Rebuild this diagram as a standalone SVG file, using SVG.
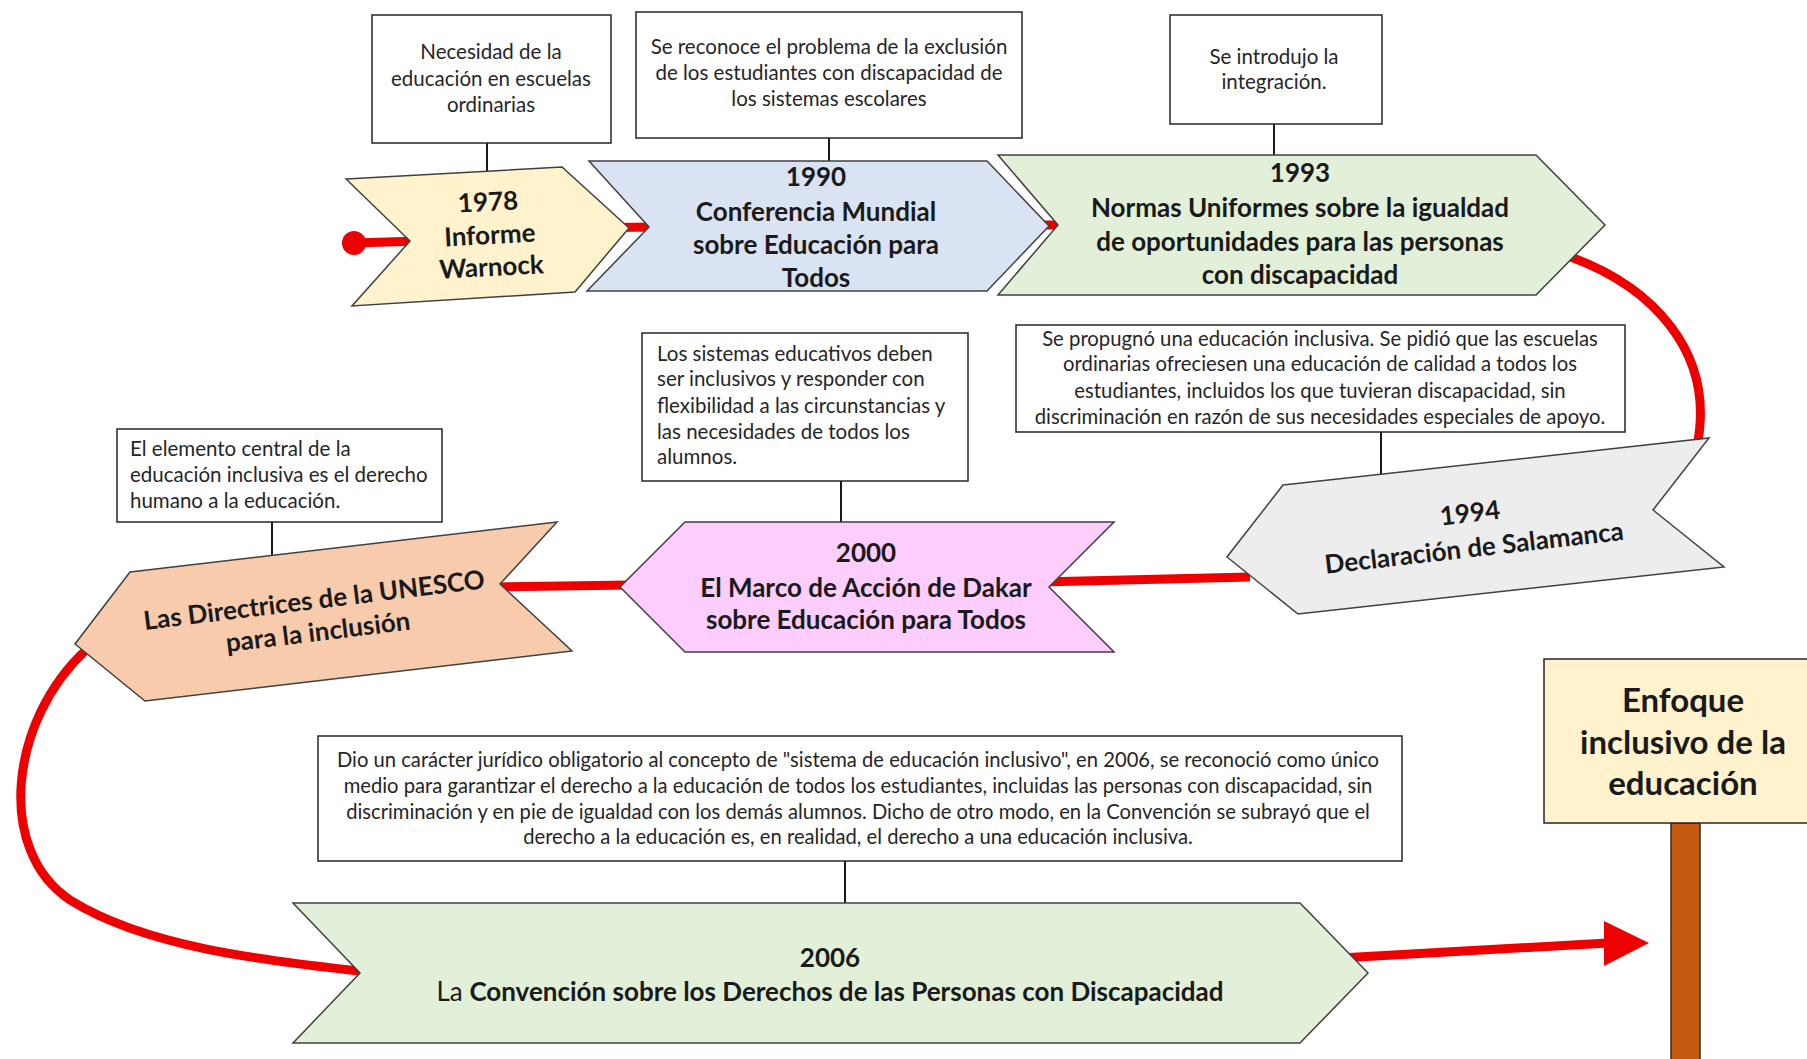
<svg xmlns="http://www.w3.org/2000/svg" width="1807" height="1059" viewBox="0 0 1807 1059">
<style>
.box{fill:#ffffff;stroke:#262626;stroke-width:1.5}
.chev{stroke:#404040;stroke-width:1.5}
.stem{stroke:#1a1a1a;stroke-width:2;fill:none}
.red{stroke:#ee0000;stroke-width:9;fill:none;stroke-linecap:butt}
.t{font-family:Lato,"Liberation Sans",sans-serif;font-size:20.5px;fill:#262626}
.c{text-anchor:middle}
.b{font-family:Lato,"Liberation Sans",sans-serif;font-weight:bold;font-size:26px;fill:#1a1a1a;text-anchor:middle}
</style>
<rect width="1807" height="1059" fill="#ffffff"/>
<g id="connectors">
<circle cx="354" cy="243" r="12" fill="#ee0000"/>
<line class="red" x1="354" y1="243" x2="420" y2="241"/>
<line class="red" x1="560" y1="228" x2="660" y2="227"/>
<line class="red" x1="1035" y1="225" x2="1070" y2="225"/>
<path class="red" d="M1568,256 C1652,286 1716,352 1697,446"/>
<line class="red" x1="1250" y1="577" x2="1040" y2="582"/>
<line class="red" x1="630" y1="585" x2="490" y2="587"/>
<path class="red" d="M86,650 C10,720 -5,850 70,900 C150,950 280,962 368,972"/>
<line class="red" x1="1340" y1="958" x2="1608" y2="943" stroke-width="10"/>
<polygon points="1604,921 1649,943 1604,966" fill="#ee0000"/>
<line class="stem" x1="487" y1="143" x2="487" y2="172"/>
<line class="stem" x1="829" y1="138" x2="829" y2="161"/>
<line class="stem" x1="1274" y1="124" x2="1274" y2="155"/>
<line class="stem" x1="1381" y1="432" x2="1381" y2="474"/>
<line class="stem" x1="841" y1="481" x2="841" y2="522"/>
<line class="stem" x1="272" y1="522" x2="272" y2="555"/>
<line class="stem" x1="845" y1="861" x2="845" y2="903"/>
</g>
<g id="n1978">
<polygon class="chev" fill="#fff2cc" points="346,179 562,167 629,228 575,292 352,306 410,241"/>
<g transform="rotate(-3 490 240)">
<text class="b" x="490" y="211">1978</text>
<text class="b" x="490" y="244">Informe</text>
<text class="b" x="490" y="276">Warnock</text>
</g>
</g>
<g id="n1990">
<polygon class="chev" fill="#dae3f3" points="589,161 987,161 1049,226 987,291 587,291 649,227"/>
<text class="b" x="816" y="186">1990</text>
<text class="b" x="816" y="221">Conferencia Mundial</text>
<text class="b" x="816" y="254">sobre Educación para</text>
<text class="b" x="816" y="287">Todos</text>
</g>
<g id="n1993">
<polygon class="chev" fill="#e2f0d9" points="998,155 1536,155 1605,225 1536,295 998,295 1058,225"/>
<text class="b" x="1300" y="182">1993</text>
<text class="b" x="1300" y="217">Normas Uniformes sobre la igualdad</text>
<text class="b" x="1300" y="251">de oportunidades para las personas</text>
<text class="b" x="1300" y="284">con discapacidad</text>
</g>
<g id="n1994">
<polygon class="chev" fill="#ededed" points="1283,485 1709,438 1653,510 1724,567 1298,614 1227,557"/>
<g transform="rotate(-6.5 1472 530)">
<text class="b" x="1472" y="522">1994</text>
<text class="b" x="1472" y="557">Declaración de Salamanca</text>
</g>
</g>
<g id="n2000">
<polygon class="chev" fill="#fdcdfd" points="685,522 1114,522 1049,587 1114,652 685,652 620,587"/>
<text class="b" x="866" y="562">2000</text>
<text class="b" x="866" y="597">El Marco de Acción de Dakar</text>
<text class="b" x="866" y="629">sobre Educación para Todos</text>
</g>
<g id="nUnesco">
<polygon class="chev" fill="#f8cbad" points="130,572 557,522 500,584 572,651 145,701 75,644"/>
<g transform="rotate(-7 316 616)">
<text class="b" x="316" y="609">Las Directrices de la UNESCO</text>
<text class="b" x="316" y="641">para la inclusión</text>
</g>
</g>
<g id="n2006">
<polygon class="chev" fill="#e2f0d9" points="293,903 1300,903 1368,973 1300,1043 293,1043 360,973"/>
<text class="b" x="830" y="967">2006</text>
<text class="b" x="830" y="1001"><tspan font-weight="normal">La </tspan>Convención sobre los Derechos de las Personas con Discapacidad</text>
</g>
<g id="box1978">
<rect class="box" x="372" y="15" width="239" height="128"/>
<text class="t c" x="491" y="59">Necesidad de la</text>
<text class="t c" x="491" y="86">educación en escuelas</text>
<text class="t c" x="491" y="112">ordinarias</text>
</g>
<g id="box1990">
<rect class="box" x="636" y="12" width="386" height="126"/>
<text class="t c" x="829" y="54">Se reconoce el problema de la exclusión</text>
<text class="t c" x="829" y="80">de los estudiantes con discapacidad de</text>
<text class="t c" x="829" y="106">los sistemas escolares</text>
</g>
<g id="box1993">
<rect class="box" x="1170" y="15" width="212" height="109"/>
<text class="t c" x="1274" y="64">Se introdujo la</text>
<text class="t c" x="1274" y="89">integración.</text>
</g>
<g id="box1994">
<rect class="box" x="1016" y="325" width="609" height="107"/>
<text class="t c" x="1320" y="346" style="font-size:20.3px">Se propugnó una educación inclusiva. Se pidió que las escuelas</text>
<text class="t c" x="1320" y="371" style="font-size:20.3px">ordinarias ofreciesen una educación de calidad a todos los</text>
<text class="t c" x="1320" y="398" style="font-size:20.3px">estudiantes, incluidos los que tuvieran discapacidad, sin</text>
<text class="t c" x="1320" y="424" style="font-size:20.3px">discriminación en razón de sus necesidades especiales de apoyo.</text>
</g>
<g id="box2000">
<rect class="box" x="642" y="333" width="326" height="148"/>
<text class="t" x="657" y="361">Los sistemas educativos deben</text>
<text class="t" x="657" y="386">ser inclusivos y responder con</text>
<text class="t" x="657" y="413">flexibilidad a las circunstancias y</text>
<text class="t" x="657" y="439">las necesidades de todos los</text>
<text class="t" x="657" y="464">alumnos.</text>
</g>
<g id="boxUnesco">
<rect class="box" x="117" y="429" width="325" height="93"/>
<text class="t" x="130" y="456">El elemento central de la</text>
<text class="t" x="130" y="482">educación inclusiva es el derecho</text>
<text class="t" x="130" y="508">humano a la educación.</text>
</g>
<g id="box2006">
<rect class="box" x="318" y="736" width="1084" height="125"/>
<text class="t c" x="858" y="767" style="font-size:20.2px">Dio un carácter jurídico obligatorio al concepto de "sistema de educación inclusivo", en 2006, se reconoció como único</text>
<text class="t c" x="858" y="793" style="font-size:20.2px">medio para garantizar el derecho a la educación de todos los estudiantes, incluidas las personas con discapacidad, sin</text>
<text class="t c" x="858" y="819" style="font-size:20.2px">discriminación y en pie de igualdad con los demás alumnos. Dicho de otro modo, en la Convención se subrayó que el</text>
<text class="t c" x="858" y="844" style="font-size:20.2px">derecho a la educación es, en realidad, el derecho a una educación inclusiva.</text>
</g>
<g id="sign">
<rect x="1671" y="823" width="29" height="240" fill="#c55a11" stroke="#3a2a1a" stroke-width="1.5"/>
<rect class="box" x="1544" y="659" width="270" height="164" style="fill:#fff2cc"/>
<text class="b" x="1683" y="712" style="font-size:33px">Enfoque</text>
<text class="b" x="1683" y="754" style="font-size:33px">inclusivo de la</text>
<text class="b" x="1683" y="795" style="font-size:33px">educación</text>
</g>
</svg>
